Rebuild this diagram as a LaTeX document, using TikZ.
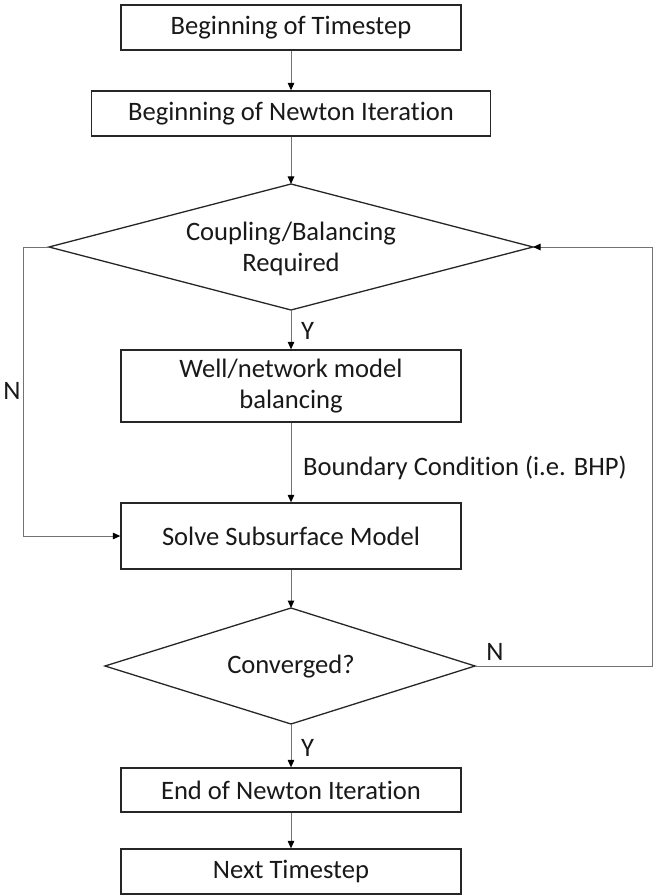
\documentclass[tikz,border=0pt]{standalone}
\usepackage{fontspec}
\setmainfont{Carlito}[Ligatures=NoCommon]
\usetikzlibrary{arrows.meta}

\tikzset{
  txt/.style={font=\fontsize{26.6}{30.5}\selectfont, text=black!90},
  box/.style={txt, draw=black!85, line width=1.3pt, minimum width=340pt,
              inner sep=0pt, align=center, fill=white},
  shapeline/.style={draw=black!85, line width=1.3pt, line join=miter},
  conn/.style={draw=black!55, line width=1pt,
               -{Triangle[length=7.5pt,width=6.5pt,fill=black,color=black]}},
  lbl/.style={txt, inner sep=0pt}
}

\begin{document}
\begin{tikzpicture}[x=1pt,y=-1pt]
  \useasboundingbox (0,0) rectangle (654,896);

  % process boxes
  \node[box, minimum height=45pt] (b1) at (291,27.5) {Beginning of Timestep};
  \node[box, minimum width=399pt, minimum height=45pt] (b2) at (291,113.5) {Beginning of Newton Iteration};
  \node[box, minimum height=72pt] (b3) at (291,386) {Well/network model\\balancing};
  \node[box, minimum height=66pt] (b4) at (291,536) {Solve Subsurface Model};
  \node[box, minimum height=44pt] (b5) at (291,790) {End of Newton Iteration};
  \node[box, minimum height=45pt] (b6) at (291,871.5) {Next Timestep};

  % decision: coupling / balancing
  \coordinate (d1n) at (291,184);
  \coordinate (d1e) at (533,247);
  \coordinate (d1s) at (291,310);
  \coordinate (d1w) at (49,247);
  \draw[shapeline] (d1n) -- (d1e) -- (d1s) -- (d1w) -- cycle;
  \node[lbl, align=center] (d1) at (291,249) {Coupling/Balancing\\Required};

  % decision: convergence
  \coordinate (d2n) at (291,608);
  \coordinate (d2e) at (475,666);
  \coordinate (d2s) at (291,724);
  \coordinate (d2w) at (105,666);
  \draw[shapeline] (d2n) -- (d2e) -- (d2s) -- (d2w) -- cycle;
  \node[lbl] (d2) at (291,667) {Converged?};

  % main flow
  \draw[conn] (b1.south) -- (b2.north);
  \draw[conn] (b2.south) -- (d1n);
  \draw[conn] (d1s) -- (b3.north);
  \draw[conn] (b3.south) -- (b4.north);
  \draw[conn] (b4.south) -- (d2n);
  \draw[conn] (d2s) -- (b5.north);
  \draw[conn] (b5.south) -- (b6.north);

  % bypass when no coupling is required
  \coordinate (lt) at (23,247);
  \coordinate (lb) at (23,536);
  \draw[conn] (d1w) -- (lt) -- (lb) -- (b4.west);

  % loop back when not converged
  \coordinate (rb) at (652.5,666);
  \coordinate (rt) at (652.5,247);
  \draw[conn] (d2e) -- (rb) -- (rt) -- (d1e);

  % branch labels
  \node[lbl, anchor=west] (y1) at (301,331) {Y};
  \node[lbl, anchor=west] (y2) at (301,748) {Y};
  \node[lbl] (n1) at (12,391) {N};
  \node[lbl] (n2) at (495,652) {N};
  \node[lbl, anchor=west] (bc) at (303,468) {Boundary Condition (i.e. BHP)};
\end{tikzpicture}
\end{document}
